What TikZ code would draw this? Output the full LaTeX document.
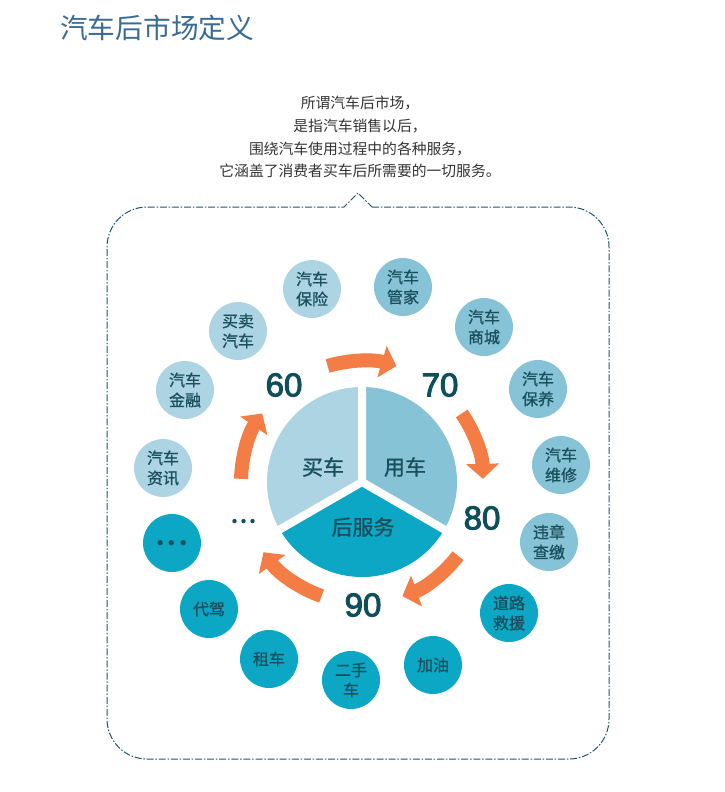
\documentclass[tikz,border=0pt]{standalone}
\usepackage{fontspec}
\setmainfont{Noto Sans CJK SC}
\newfontfamily\numfont{Liberation Sans}[FakeBold=3]
\newfontfamily\labelfont{Noto Sans CJK SC}[FakeBold=1]
\usetikzlibrary{arrows.meta,calc}
\definecolor{clight}{HTML}{ADD4E3}
\definecolor{cmid}{HTML}{87C3D6}
\definecolor{cdark}{HTML}{0BA7C4}
\definecolor{corange}{HTML}{F47C45}
\definecolor{cteal}{HTML}{1A4F5E}
\definecolor{cnum}{HTML}{0E4F5C}
\definecolor{ctitle}{HTML}{3A6C92}
\definecolor{cborder}{HTML}{1F5769}
\definecolor{cpara}{HTML}{333333}
\tikzset{
  bubble/.style={circle, minimum size=58pt, inner sep=0pt, align=center,
    text=cteal, font=\fontsize{16}{20}\selectfont\labelfont},
  bl/.style={bubble, fill=clight},
  bm/.style={bubble, fill=cmid},
  bd/.style={bubble, fill=cdark},
  numlabel/.style={text=cnum, font=\fontsize{33}{36}\selectfont\numfont},
  pielabel/.style={text=cteal, font=\fontsize{21}{24}\selectfont\labelfont},
  cyclearrow/.style={draw=corange, line width=14pt,
    -{Triangle[width=32pt,length=15pt]}},
  framebox/.style={draw=cborder, line width=1pt,
    dash pattern=on 7pt off 1.8pt on 1.5pt off 1.8pt}
}
\begin{document}
\begin{tikzpicture}[x=1pt,y=1pt]
\useasboundingbox (0,0) rectangle (724,-792);
% title
\node[anchor=west, text=ctitle, font=\fontsize{27.7}{30}\selectfont, inner sep=0pt] (title) at (60,-28) {汽车后市场定义};
% paragraph
\node[align=center, text=cpara, font=\fontsize{14.8}{22.7}\selectfont, inner sep=0pt] (para) at (360,-137)
  {所谓汽车后市场，\\是指汽车销售以后，\\围绕汽车使用过程中的各种服务，\\它涵盖了消费者买车后所需要的一切服务。};
% frame
\draw[framebox] (372,-207) -- (569,-207) arc[start angle=90,end angle=0,radius=40pt]
  -- (609,-719) arc[start angle=0,end angle=-90,radius=40pt]
  -- (147,-759) arc[start angle=270,end angle=180,radius=40pt]
  -- (107,-247) arc[start angle=180,end angle=90,radius=40pt]
  -- (344,-207) -- (358,-193) -- cycle;
% pie
\coordinate (c) at (362,-482);
\fill[clight] (c) -- ++(90:95pt) arc[start angle=90,end angle=210,radius=95pt] -- cycle;
\fill[cmid] (c) -- ++(-30:95pt) arc[start angle=-30,end angle=90,radius=95pt] -- cycle;
\fill[cdark] (c) -- ++(210:95pt) arc[start angle=210,end angle=330,radius=95pt] -- cycle;
\draw[white, line width=8pt] (c) -- ++(90:100pt) (c) -- ++(210:100pt) (c) -- ++(330:100pt);
\node[pielabel] (buy) at (323,-467) {买车};
\node[pielabel] (use) at (405,-467) {用车};
\node[pielabel] (after) at (363,-527) {后服务};
% cycle arrows
\foreach \ang/\off in {90/16.5,18/16.5,-54/16.5,-126/18.5,-198/16.5}{
  \draw[cyclearrow] ($(c)+(\ang+16.5:121pt)$) arc[start angle=\ang+16.5, end angle=\ang-\off, radius=121pt];
}
% numbers
\node[numlabel] (n60) at (284,-385) {60};
\node[numlabel] (n70) at (440,-385) {70};
\node[numlabel] (n80) at (482,-518) {80};
\node[numlabel] (n90) at (363,-605) {90};
\node[text=cnum, font=\fontsize{20}{22}\selectfont\bfseries, anchor=base] (ndots) at (244,-523) {.\hspace{2pt}.\hspace{2pt}.};
% bubbles
\node[bl] (b1) at (312,-289) {汽车\\保险};
\node[bm] (b2) at (403,-287) {汽车\\管家};
\node[bm] (b3) at (484,-327) {汽车\\商城};
\node[bm] (b4) at (538,-389) {汽车\\保养};
\node[bm] (b5) at (561,-465) {汽车\\维修};
\node[bm] (b6) at (549,-542) {违章\\查缴};
\node[bd] (b7) at (509,-613) {道路\\救援};
\node[bd] (b8) at (433,-665) {加油};
\node[bd] (b9) at (351,-680) {二手\\车};
\node[bd] (b10) at (269,-659) {租车};
\node[bd] (b11) at (209,-609) {代驾};
\node[bd, font=\fontsize{24}{24}\selectfont\bfseries] (b12) at (172,-543) {.\hspace{3pt}.\hspace{3pt}.};
\node[bl] (b13) at (163,-468) {汽车\\资讯};
\node[bl] (b14) at (185,-390) {汽车\\金融};
\node[bl] (b15) at (238,-331) {买卖\\汽车};
\end{tikzpicture}
\end{document}
